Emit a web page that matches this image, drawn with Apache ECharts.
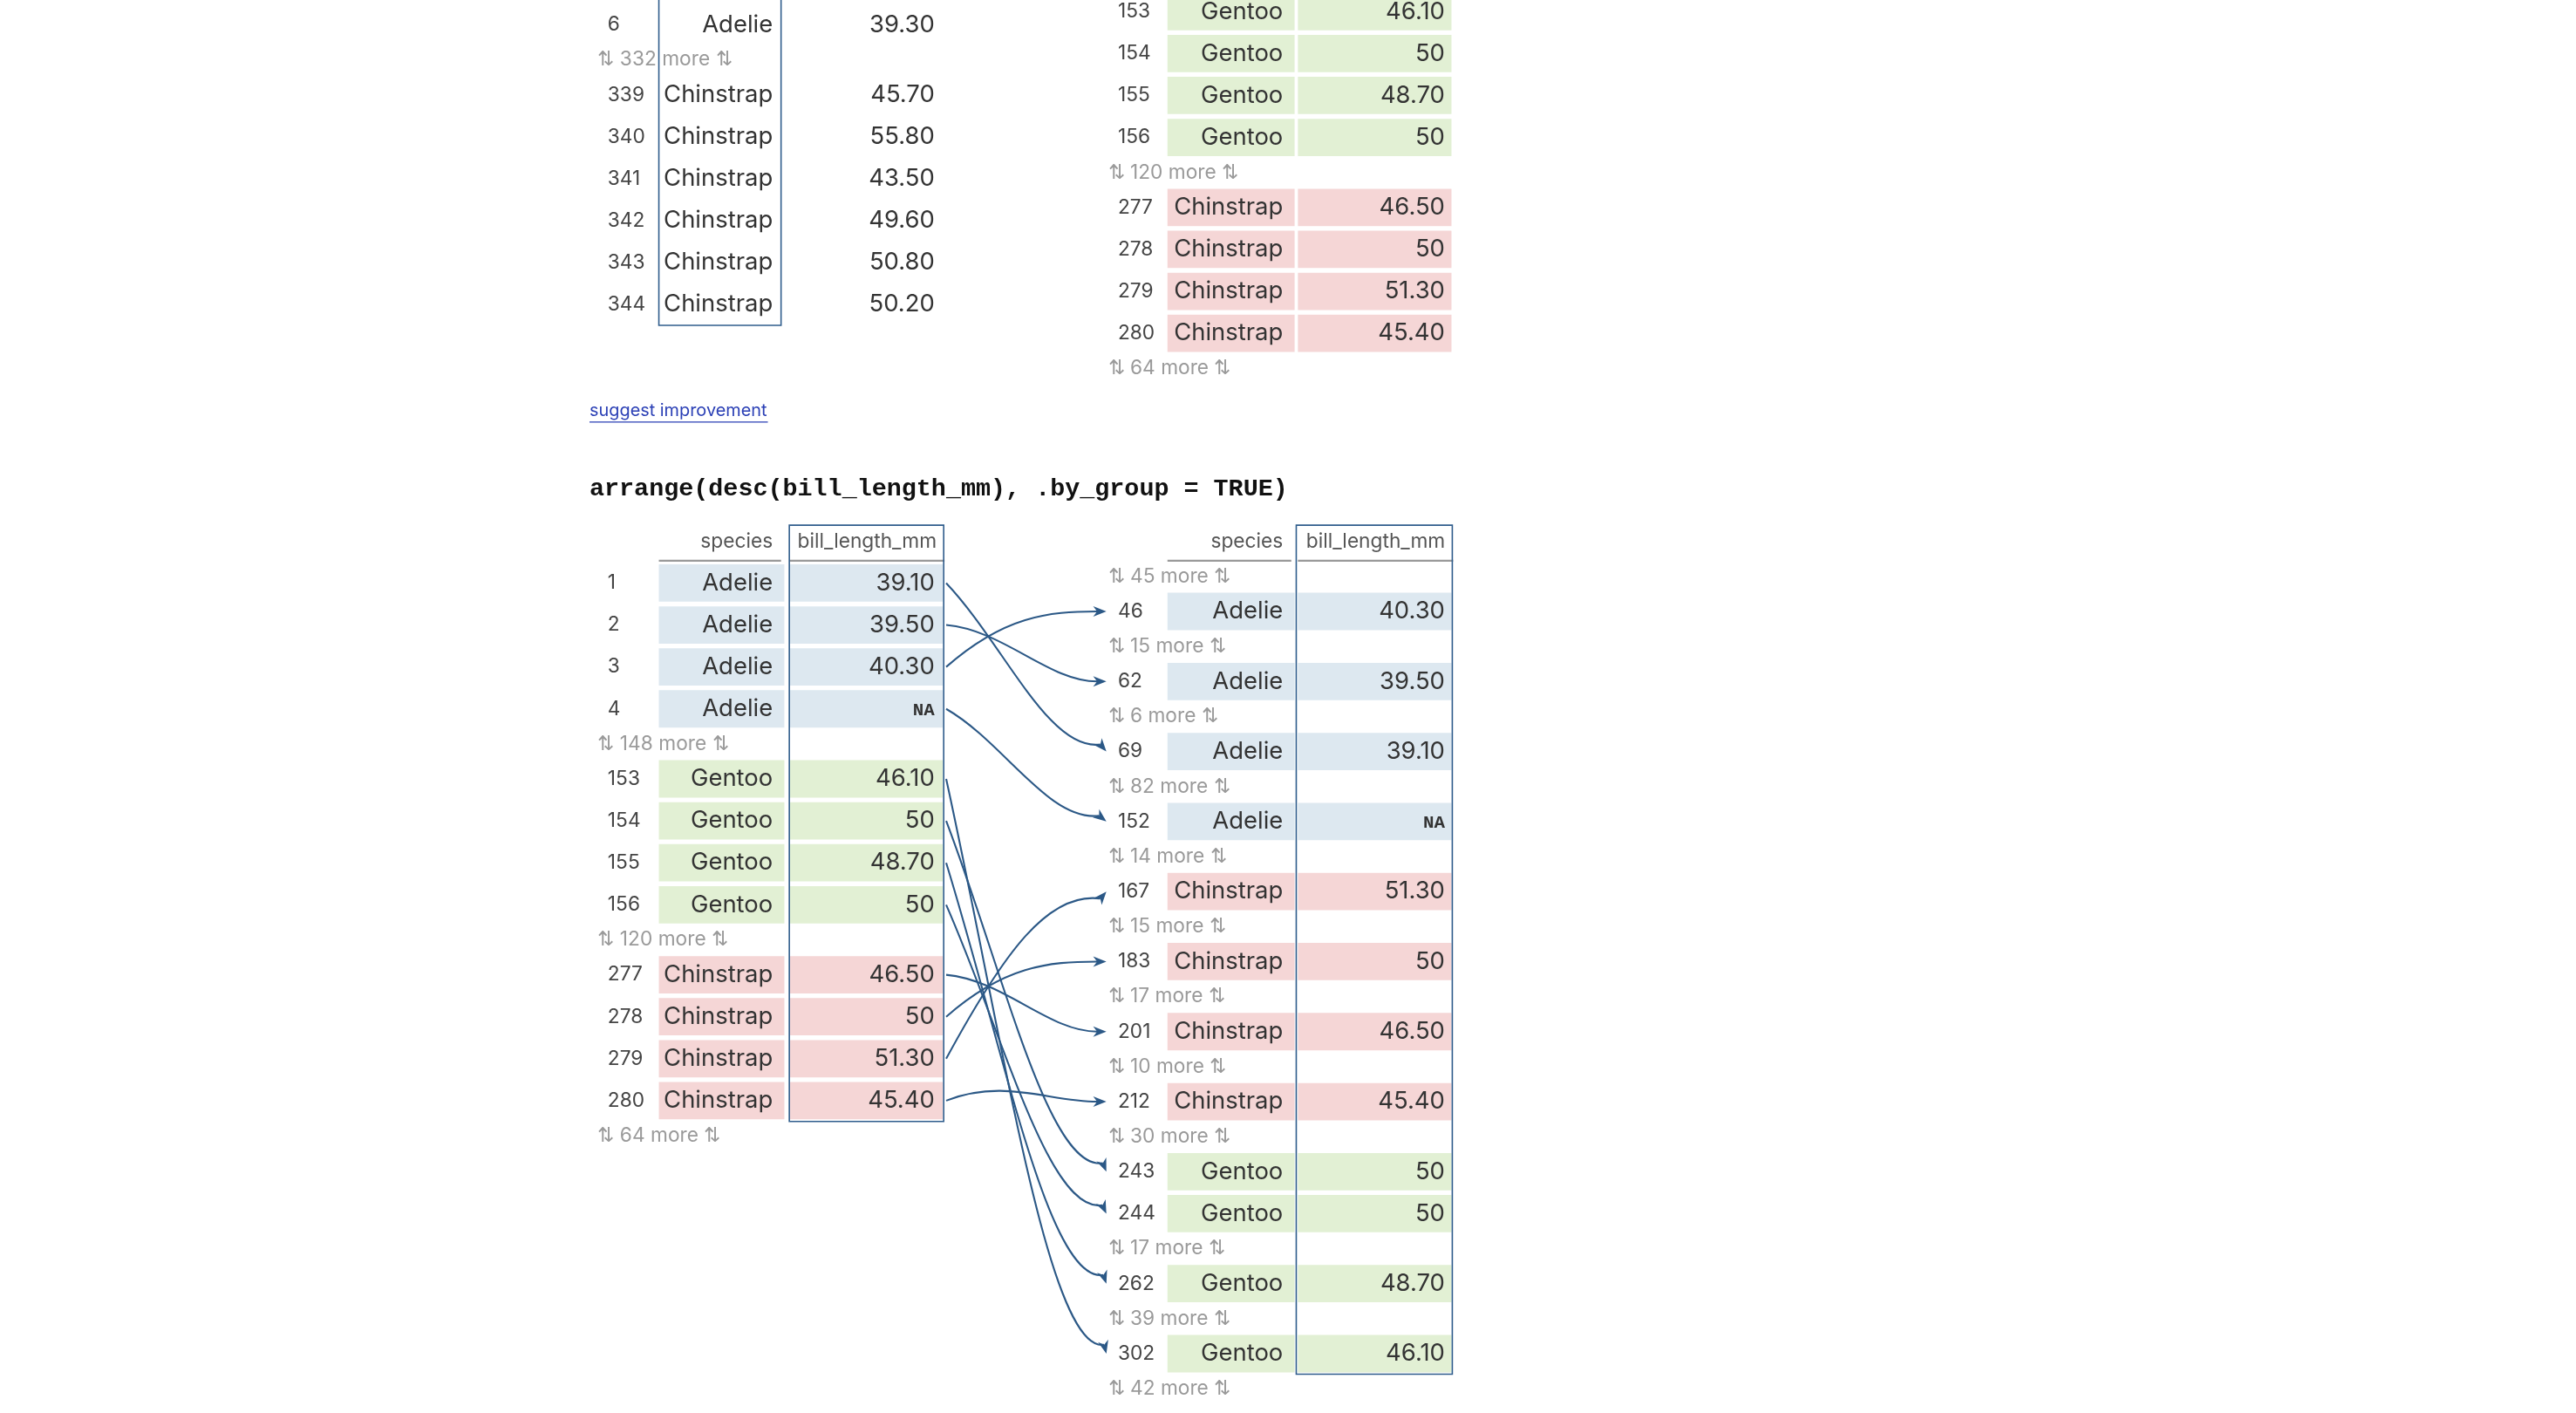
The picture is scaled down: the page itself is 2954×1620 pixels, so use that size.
<!DOCTYPE html>
<html>
<head>
<meta charset="utf-8">
<script src="https://cdn.jsdelivr.net/npm/echarts@6/dist/echarts.min.js"></script>
<style>html,body{margin:0;padding:0;background:#fff}#c{width:2954px;height:1620px}</style>
</head>
<body>
<div id="c"></div>
<script>
// rows: [index, species, bill_length_mm]; a plain number = "N more" gap
var topLeftRows = [[6,'Adelie','39.30'], 332,
  [339,'Chinstrap','45.70'],[340,'Chinstrap','55.80'],[341,'Chinstrap','43.50'],
  [342,'Chinstrap','49.60'],[343,'Chinstrap','50.80'],[344,'Chinstrap','50.20']];
var topRightRows = [[153,'Gentoo','46.10'],[154,'Gentoo','50'],[155,'Gentoo','48.70'],[156,'Gentoo','50'], 120,
  [277,'Chinstrap','46.50'],[278,'Chinstrap','50'],[279,'Chinstrap','51.30'],[280,'Chinstrap','45.40'], 64];
var leftRows = [[1,'Adelie','39.10'],[2,'Adelie','39.50'],[3,'Adelie','40.30'],[4,'Adelie','NA'], 148,
  [153,'Gentoo','46.10'],[154,'Gentoo','50'],[155,'Gentoo','48.70'],[156,'Gentoo','50'], 120,
  [277,'Chinstrap','46.50'],[278,'Chinstrap','50'],[279,'Chinstrap','51.30'],[280,'Chinstrap','45.40'], 64];
var rightRows = [45, [46,'Adelie','40.30'], 15, [62,'Adelie','39.50'], 6, [69,'Adelie','39.10'], 82,
  [152,'Adelie','NA'], 14, [167,'Chinstrap','51.30'], 15, [183,'Chinstrap','50'], 17,
  [201,'Chinstrap','46.50'], 10, [212,'Chinstrap','45.40'], 30, [243,'Gentoo','50'],
  [244,'Gentoo','50'], 17, [262,'Gentoo','48.70'], 39, [302,'Gentoo','46.10'], 42];
var arrowFrom = [1,2,3,4,153,154,155,156,277,278,279,280];
var arrowTo   = [69,62,46,152,302,243,262,244,201,183,167,212];
var headers = ['species','bill_length_mm'];
var titleText = 'arrange(desc(bill_length_mm), .by_group = TRUE)';
var linkText = 'suggest improvement';

var S = 2954 / 1560;
var fills = {Adelie:'#dde8f0', Gentoo:'#e2f0d4', Chinstrap:'#f5d6d6'};
var FONT = 'Inter, Roboto, "Noto Sans", sans-serif';
var els = [];

function layout(rows, y0, cfg) {
  var y = y0, prev = null, pos = {};
  rows.forEach(function (r) {
    var isGap = typeof r === 'number';
    if (prev !== null) y += (prev && !isGap) ? 25.4 : 21.2;
    if (isGap) {
      els.push({t:'text', x:cfg.gapX, y:y, s:'⇅ ' + r + ' more ⇅', size:12, fill:'#9a9a9a', align:'left'});
    } else {
      if (cfg.fill) {
        els.push({t:'rect', x:cfg.spX0, y:y - 11.3, w:cfg.spX1 - cfg.spX0, h:22.6, fill:fills[r[1]]});
        els.push({t:'rect', x:cfg.vX0, y:y - 11.3, w:cfg.vX1 - cfg.vX0, h:22.6, fill:fills[r[1]]});
      }
      els.push({t:'text', x:cfg.idxX, y:y, s:String(r[0]), size:12, fill:'#444', align:'left'});
      els.push({t:'text', x:cfg.spText, y:y, s:r[1], size:14.5, fill:'#333', align:'right'});
      if (r[2] === 'NA') {
        els.push({t:'text', x:cfg.vText, y:y + 1, s:'NA', size:11, fill:'#333', align:'right',
          family:'"Liberation Mono", "DejaVu Sans Mono", monospace', weight:'bold'});
      } else {
        els.push({t:'text', x:cfg.vText, y:y, s:r[2], size:14.5, fill:'#333', align:'right'});
      }
      pos[r[0]] = y;
    }
    prev = !isGap;
  });
  return {pos:pos, end:y};
}

var L = {idxX:368, gapX:362, spX0:399, spX1:475, vX0:478, vX1:571, spText:468, vText:566};
var R = {idxX:677, gapX:671, spX0:707, spX1:784, vX0:786, vX1:879, spText:777, vText:875};

// top tables (previous step, cut off at top)
layout(topLeftRows, 15, Object.assign({fill:false}, L));
els.push({t:'box', x:399, y:-20, w:74, h:217});
layout(topRightRows, 7, Object.assign({fill:true}, R));

// link + title
els.push({t:'text', x:357, y:249, s:linkText, size:10.5, fill:'#2a3fb5', align:'left'});
els.push({t:'line', x1:357, y1:255.5, x2:465, y2:255.5, stroke:'#2a3fb5', lw:0.7});
els.push({t:'text', x:357, y:296, s:titleText, size:15, fill:'#111', align:'left',
  family:'"Liberation Mono", "DejaVu Sans Mono", monospace', weight:'bold'});

// headers
[L, R].forEach(function (c) {
  els.push({t:'text', x:c.spText, y:328, s:headers[0], size:12, fill:'#555', align:'right'});
  els.push({t:'text', x:c.vX0 + 5, y:328, s:headers[1], size:12, fill:'#555', align:'left'});
  els.push({t:'line', x1:c.spX0, y1:339.5, x2:c.spX1 - 2, y2:339.5, stroke:'#999', lw:1.3});
  els.push({t:'line', x1:c.vX0, y1:339.5, x2:c.vX1 + 1, y2:339.5, stroke:'#999', lw:1.3});
});

var lp = layout(leftRows, 353, Object.assign({fill:true}, L));
var rp = layout(rightRows, 349, Object.assign({fill:true}, R));
els.push({t:'box', x:478, y:318, w:93.5, h:361});
els.push({t:'box', x:785, y:318, w:94.5, h:514});

arrowFrom.forEach(function (f, i) {
  els.push({t:'arrow', y0:lp.pos[f], y1:rp.pos[arrowTo[i]]});
});

function renderItem(params, api) {
  var e = els[params.dataIndex];
  function P(x, y) { return api.coord([x, y]); }
  if (e.t === 'rect') {
    var a = P(e.x, e.y);
    return {type:'rect', shape:{x:a[0], y:a[1], width:e.w * S, height:e.h * S}, style:{fill:e.fill}};
  }
  if (e.t === 'box') {
    var b = P(e.x, e.y);
    return {type:'rect', z2:5, shape:{x:b[0], y:b[1], width:e.w * S, height:e.h * S},
      style:{fill:'none', stroke:'#2f5d8c', lineWidth:1.6}};
  }
  if (e.t === 'line') {
    var p1 = P(e.x1, e.y1), p2 = P(e.x2, e.y2);
    return {type:'line', shape:{x1:p1[0], y1:p1[1], x2:p2[0], y2:p2[1]}, style:{stroke:e.stroke, lineWidth:e.lw * S}};
  }
  if (e.t === 'text') {
    var t = P(e.x, e.y);
    return {type:'text', z2:10, style:{text:e.s, x:t[0], y:t[1], fill:e.fill,
      fontSize:e.size * S, fontFamily:e.family || FONT, fontWeight:e.weight || 'normal',
      align:e.align, verticalAlign:'middle', textAlign:e.align, textVerticalAlign:'middle'}};
  }
  if (e.t === 'arrow') {
    var x0 = 573, x1 = 670, dy = e.y1 - e.y0;
    var s = P(x0, e.y0), c1 = P(x0 + 35, e.y0 + dy * 0.5 - 14), c2 = P(x1 - 35, e.y1), en = P(x1, e.y1);
    var ang = Math.atan2(en[1] - c2[1], en[0] - c2[0]);
    if (Math.abs(dy) > 60) ang = Math.atan2(dy * S, (x1 - x0) * S * 0.9);
    var hl = 8 * S, hw = 3.2 * S;
    var bx = en[0] - hl * Math.cos(ang), by = en[1] - hl * Math.sin(ang);
    var nx = -Math.sin(ang), ny = Math.cos(ang);
    var mx = en[0] - hl * 0.7 * Math.cos(ang), my = en[1] - hl * 0.7 * Math.sin(ang);
    return {type:'group', children:[
      {type:'bezierCurve', shape:{x1:s[0], y1:s[1], cpx1:c1[0], cpy1:c1[1], cpx2:c2[0], cpy2:c2[1], x2:mx, y2:my},
        style:{stroke:'#2b5886', lineWidth:1.1 * S, fill:'none'}},
      {type:'polygon', shape:{points:[[en[0], en[1]], [bx + nx * hw, by + ny * hw], [mx, my], [bx - nx * hw, by - ny * hw]]},
        style:{fill:'#2b5886'}}
    ]};
  }
}

var chart = echarts.init(document.getElementById('c'));
chart.setOption({
  animation:false,
  grid:{left:0, right:0, top:0, bottom:0},
  xAxis:{type:'value', min:0, max:1560, show:false},
  yAxis:{type:'value', min:0, max:1620 / S, inverse:true, show:false},
  series:[{type:'custom', renderItem:renderItem, clip:false,
    data:els.map(function (e, i) { return [i]; })}]
});
</script>
</body>
</html>
